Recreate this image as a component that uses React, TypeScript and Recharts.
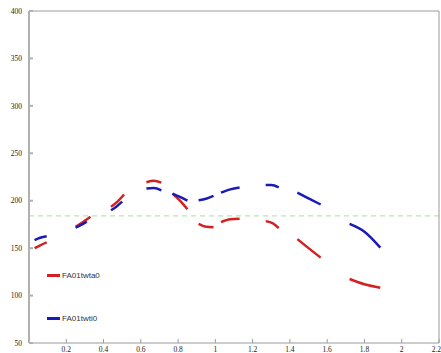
import { Line, LineChart, ReferenceLine, XAxis, YAxis } from "recharts"

const RED = "#d42020"
const BLUE = "#1a1ab8"
const GREEN = "#a6e0a0"

// null marks a gap between dashes
const RED_X = [0.03, 0.06, 0.095, 0.17, 0.25, 0.29, 0.33, 0.38, 0.44, 0.475, 0.51, 0.57, 0.63, 0.67, 0.71, 0.74, 0.77, 0.81, 0.85, 0.88, 0.91, 0.95, 0.99, 1.01, 1.03, 1.08, 1.13, 1.2, 1.27, 1.31, 1.34, 1.39, 1.44, 1.5, 1.565, 1.64, 1.72, 1.8, 1.885]
const RED_Y = [150, 153, 156, null, 172.5, 177.5, 183, null, 193.6, 199, 206.5, null, 219.5, 221, 219, null, 207.5, 200, 191, null, 175.5, 172.5, 172, null, 177.5, 180.5, 181, null, 178.5, 176, 171, null, 159.5, 150, 140, null, 117.5, 112, 108.3]

const BLUE_X = [0.03, 0.06, 0.095, 0.17, 0.25, 0.28, 0.31, 0.38, 0.44, 0.47, 0.5, 0.57, 0.63, 0.67, 0.71, 0.74, 0.77, 0.81, 0.85, 0.88, 0.91, 0.95, 0.99, 1.01, 1.03, 1.08, 1.13, 1.2, 1.27, 1.3, 1.34, 1.39, 1.44, 1.5, 1.565, 1.64, 1.72, 1.8, 1.885]
const BLUE_Y = [158.5, 161, 162.5, null, 171.5, 174.5, 178, null, 190, 194, 199, null, 213, 213.5, 211, null, 207.5, 204, 200, null, 200.5, 202, 205, null, 208.5, 212, 214, null, 216.5, 216.5, 214, null, 208.5, 202.5, 196, null, 175.5, 167.3, 150.5]

const THRESHOLD = 184

const X_TICKS = [0.2, 0.4, 0.6, 0.8, 1, 1.2, 1.4, 1.6, 1.8, 2, 2.2]
const Y_TICKS = [50, 100, 150, 200, 250, 300, 350, 400]

const SERIES = [
  { name: "FA01twta0", color: RED },
  { name: "FA01twti0", color: BLUE },
]

const redData = RED_X.map((x, i) => ({ x, y: RED_Y[i] }))
const blueData = BLUE_X.map((x, i) => ({ x, y: BLUE_Y[i] }))

const tickFont = { fontSize: 7.5, fill: "#1a1a1a", stroke: "none", fontFamily: "'Liberation Serif', serif" }
const none = () => ""

export default function App() {
  return (
    <div style={{ position: "absolute", left: 0, top: 0, width: 441, height: 353, background: "#fff" }}>
      <LineChart width={441} height={353} margin={{ top: 10, right: 1, bottom: 0, left: 0 }}>
        <XAxis
          type="number"
          dataKey="x"
          domain={[0, 2.2]}
          ticks={X_TICKS}
          height={10}
          tickSize={-4}
          tickMargin={8}
          stroke="#9a9a9a"
          tick={tickFont}
          allowDataOverflow
        />
        <XAxis
          xAxisId="top"
          orientation="top"
          type="number"
          dataKey="x"
          domain={[0, 2.2]}
          ticks={X_TICKS}
          height={1}
          tickSize={-4}
          tickFormatter={none}
          stroke="#9a9a9a"
        />
        <YAxis
          domain={[50, 400]}
          ticks={Y_TICKS}
          width={29}
          tickSize={-4}
          tickMargin={11}
          stroke="#b0b0b0"
          strokeWidth={2}
          tick={tickFont}
          allowDataOverflow
        />
        <YAxis
          yAxisId="right"
          orientation="right"
          domain={[50, 400]}
          ticks={Y_TICKS}
          width={1}
          tickSize={-4}
          tickFormatter={none}
          stroke="#9a9a9a"
        />
        <ReferenceLine y={THRESHOLD} stroke={GREEN} strokeDasharray="5 4" strokeWidth={1} />
        <Line
          data={redData}
          dataKey="y"
          type="monotone"
          stroke={RED}
          strokeWidth={2.5}
          dot={false}
          isAnimationActive={false}
        />
        <Line
          data={blueData}
          dataKey="y"
          type="monotone"
          stroke={BLUE}
          strokeWidth={2.5}
          dot={false}
          isAnimationActive={false}
        />
      </LineChart>
      {SERIES.map((s, i) => (
        <div
          key={s.name}
          style={{
            position: "absolute",
            left: 47,
            top: 271 + i * 43,
            display: "flex",
            alignItems: "center",
            fontFamily: "'Liberation Sans', Arial, sans-serif",
            fontSize: 8,
            color: "#333",
          }}
        >
          <span style={{ width: 13, height: 3, background: s.color, marginRight: 2 }} />
          {s.name}
        </div>
      ))}
    </div>
  )
}
